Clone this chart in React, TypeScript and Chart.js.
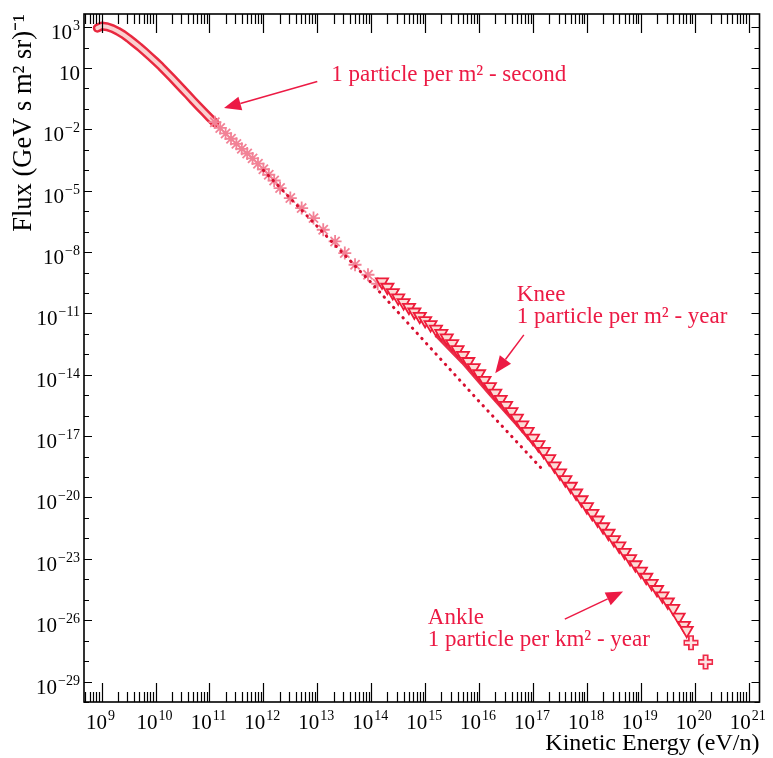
import React, { useEffect, useRef } from 'react';
import { Chart, registerables } from 'chart.js';

Chart.register(...registerables);

const FONT = "'Liberation Serif', 'Times New Roman', serif";
const TEXT_RED = '#ec1a44';

// ---- data (log10 of energy in eV/n, log10 of flux) ----
// low-energy data (dense markers forming a tube)
const tubeLogE = [8.92, 9.0, 9.1, 9.2, 9.3, 9.4, 9.5, 9.6, 9.7, 9.8, 9.9, 10.0, 10.1, 10.2, 10.3, 10.4, 10.5, 10.6, 10.7, 10.8, 10.9, 11.0, 11.1];
const tubeLogFlux = [2.95, 3.05, 3.02, 2.93, 2.8, 2.64, 2.45, 2.24, 2.03, 1.8, 1.56, 1.32, 1.07, 0.8, 0.53, 0.25, -0.03, -0.31, -0.6, -0.88, -1.15, -1.42, -1.68];

// asterisk data
const starLogE = [11.1, 11.2, 11.3, 11.4, 11.5, 11.6, 11.7, 11.8, 11.9, 12.0, 12.1, 12.2, 12.31, 12.5, 12.71, 12.93, 13.11, 13.33, 13.51, 13.7, 13.94, 14.12];
const starLogFlux = [-1.65, -1.93, -2.2, -2.46, -2.71, -2.95, -3.18, -3.42, -3.68, -3.95, -4.22, -4.5, -4.87, -5.36, -5.85, -6.34, -6.91, -7.48, -8.05, -8.62, -9.11, -9.55];

// triangle data (air-shower arrays)
const triLogE = [14.2, 14.3, 14.4, 14.5, 14.6, 14.7, 14.8, 14.9, 15.0, 15.1, 15.2, 15.3, 15.4, 15.5, 15.6, 15.7, 15.8, 15.9, 16.0, 16.1, 16.2, 16.3, 16.4, 16.5, 16.6, 16.7, 16.8, 16.9, 17.0, 17.1, 17.2, 17.3, 17.4, 17.5, 17.6, 17.7, 17.8, 17.9, 18.0, 18.1, 18.2, 18.3, 18.4, 18.5, 18.6, 18.7, 18.8, 18.9, 19.0, 19.1, 19.2, 19.3, 19.4, 19.5, 19.6, 19.7, 19.8, 19.85];
const triLogFlux = [-9.46, -9.72, -9.98, -10.24, -10.47, -10.7, -10.93, -11.14, -11.35, -11.55, -11.77, -11.98, -12.2, -12.48, -12.77, -13.05, -13.35, -13.65, -13.95, -14.27, -14.58, -14.9, -15.2, -15.5, -15.8, -16.12, -16.45, -16.77, -17.1, -17.42, -17.75, -18.1, -18.45, -18.8, -19.13, -19.45, -19.78, -20.11, -20.45, -20.78, -21.1, -21.43, -21.75, -22.06, -22.37, -22.68, -22.99, -23.29, -23.6, -23.9, -24.2, -24.5, -24.81, -25.11, -25.42, -25.85, -26.25, -26.5];

// knee band (solid)
const kneeLogE = [15.2, 15.7, 16.2, 16.7, 17.2];
const kneeLogFlux = [-12.05, -13.4, -14.92, -16.4, -17.95];

// dotted reference line
const dotLogE = [12.0, 13.0, 14.0, 15.0, 16.0, 17.2];
const dotLogFlux = [-4.0, -6.75, -9.5, -12.4, -15.3, -18.7];

// highest-energy points (crosses)
const crossLogE = [19.93, 20.2];
const crossLogFlux = [-27.1, -28.05];

// axes
const xMinExp = 8.674;
const xMaxExp = 21.2;
const yMinExp = -30;
const yMaxExp = 3.64;
const xTickExps = [9, 10, 11, 12, 13, 14, 15, 16, 17, 18, 19, 20, 21];
const yTickExps = [3, 1, -2, -5, -8, -11, -14, -17, -20, -23, -26, -29];

// annotations (positions in data space: log10 E, log10 F)
const annotations = [
  { lines: ['1 particle per m² - second'], logE: 13.26, logF: 0.67 },
  { lines: ['Knee', '1 particle per m² - year'], logE: 16.70, logF: -10.09 },
  { lines: ['Ankle', '1 particle per km² - year'], logE: 15.05, logF: -25.88 },
];
const arrows = [
  { fromE: 13.0, fromF: 0.34, toE: 11.27, toF: -0.96 },
  { fromE: 16.83, fromF: -12.05, toE: 16.30, toF: -13.92 },
  { fromE: 17.59, fromF: -25.95, toE: 18.67, toF: -24.6 },
];

const SUP: Record<string, string> = { '0': '⁰', '1': '¹', '2': '²', '3': '³', '4': '⁴', '5': '⁵', '6': '⁶', '7': '⁷', '8': '⁸', '9': '⁹', '-': '⁻' };
const powLabel = (e: number) => (e === 1 ? '10' : '10' + String(e).split('').map((c) => SUP[c]).join(''));

const pts = (le: number[], lf: number[]) => le.map((e, i) => ({ x: Math.pow(10, e), y: Math.pow(10, lf[i]) }));

const BASE_PX = 21;
const EXP_PX = 14;

function drawPow(ctx: CanvasRenderingContext2D, e: number, x: number, digitsCenterY: number, align: 'center' | 'right') {
  const base = '10';
  const exp = e === 1 ? '' : String(e).replace('-', '\u2212');
  ctx.font = `${BASE_PX}px ${FONT}`;
  const wb = ctx.measureText(base).width;
  ctx.font = `${EXP_PX}px ${FONT}`;
  const we = exp ? ctx.measureText(exp).width + 1 : 0;
  const total = wb + we;
  const x0 = align === 'center' ? x - total / 2 : x - total;
  const baseline = digitsCenterY + 7;
  ctx.textAlign = 'left';
  ctx.textBaseline = 'alphabetic';
  ctx.font = `${BASE_PX}px ${FONT}`;
  ctx.fillText(base, x0, baseline);
  if (exp) {
    ctx.font = `${EXP_PX}px ${FONT}`;
    ctx.fillText(exp, x0 + wb + 1, baseline - 9);
  }
}

const framePlugin = {
  id: 'frameTicks',
  afterDraw(chart: any) {
    const { ctx, chartArea: a, scales } = chart;
    const x = scales.x;
    const y = scales.y;
    ctx.save();
    ctx.strokeStyle = '#000';
    ctx.lineWidth = 1.6;
    ctx.strokeRect(a.left, a.top, a.right - a.left, a.bottom - a.top);
    ctx.lineWidth = 1.2;
    ctx.beginPath();
    for (let d = 8; d <= 21; d++) {
      for (let m = 1; m <= 9; m++) {
        const v = m * Math.pow(10, d);
        if (v < x.min || v > x.max) continue;
        const px = Math.round(x.getPixelForValue(v)) + 0.5;
        const len = m === 1 ? 19 : 10;
        ctx.moveTo(px, a.bottom);
        ctx.lineTo(px, a.bottom - len);
        ctx.moveTo(px, a.top);
        ctx.lineTo(px, a.top + len);
      }
    }
    for (let d = -30; d <= 3; d++) {
      const v = Math.pow(10, d);
      if (v < y.min || v > y.max) continue;
      const py = Math.round(y.getPixelForValue(v)) + 0.5;
      const len = yTickExps.includes(d) ? 8 : 5;
      ctx.moveTo(a.left, py);
      ctx.lineTo(a.left + len, py);
      ctx.moveTo(a.right, py);
      ctx.lineTo(a.right - len, py);
    }
    ctx.stroke();

    // tick labels (10 with raised exponent)
    ctx.fillStyle = '#000';
    x.ticks.forEach((t: any) => {
      const e = Math.round(Math.log10(t.value));
      drawPow(ctx, e, x.getPixelForValue(t.value) - 1, a.bottom + 19.5, 'center');
    });
    y.ticks.forEach((t: any) => {
      const e = Math.round(Math.log10(t.value));
      drawPow(ctx, e, a.left - 4, y.getPixelForValue(t.value) + 5, 'right');
    });

    // annotations
    ctx.fillStyle = TEXT_RED;
    ctx.strokeStyle = TEXT_RED;
    ctx.font = `23px ${FONT}`;
    ctx.textAlign = 'left';
    ctx.textBaseline = 'middle';
    annotations.forEach((an) => {
      const px = x.getPixelForValue(Math.pow(10, an.logE));
      const py = y.getPixelForValue(Math.pow(10, an.logF));
      an.lines.forEach((t, i) => ctx.fillText(t, px, py + i * 22));
    });
    ctx.lineWidth = 1.5;
    arrows.forEach((ar) => {
      const x0 = x.getPixelForValue(Math.pow(10, ar.fromE));
      const y0 = y.getPixelForValue(Math.pow(10, ar.fromF));
      const x1 = x.getPixelForValue(Math.pow(10, ar.toE));
      const y1 = y.getPixelForValue(Math.pow(10, ar.toF));
      const ang = Math.atan2(y1 - y0, x1 - x0);
      const hl = 17;
      const hw = 7;
      const bx = x1 - hl * Math.cos(ang);
      const by = y1 - hl * Math.sin(ang);
      ctx.beginPath();
      ctx.moveTo(x0, y0);
      ctx.lineTo(bx, by);
      ctx.stroke();
      ctx.beginPath();
      ctx.moveTo(x1, y1);
      ctx.lineTo(bx + hw * Math.sin(ang), by - hw * Math.cos(ang));
      ctx.lineTo(bx - hw * Math.sin(ang), by + hw * Math.cos(ang));
      ctx.closePath();
      ctx.fill();
    });
    ctx.restore();
  },
};

export default function App() {
  const ref = useRef<HTMLCanvasElement>(null);
  useEffect(() => {
    document.body.style.margin = '0';
    document.body.style.background = '#fff';
    const canvas = ref.current!;
    const chart = new Chart(canvas, {
      type: 'line',
      data: {
        datasets: [
          {
            label: 'Crosses inner',
            data: pts(crossLogE, crossLogFlux),
            showLine: false,
            pointStyle: 'cross',
            pointRadius: 6,
            borderWidth: 2.5,
            borderColor: '#fde3e3',
          } as any,
          {
            label: 'Crosses',
            data: pts(crossLogE, crossLogFlux),
            showLine: false,
            pointStyle: 'cross',
            pointRadius: 7.5,
            borderWidth: 6,
            borderColor: '#ee2a48',
          },
          {
            label: 'Triangles',
            data: pts(triLogE, triLogFlux),
            showLine: false,
            pointStyle: 'triangle',
            rotation: 180,
            pointRadius: 7,
            borderWidth: 1.8,
            borderColor: '#ee1c3a',
            backgroundColor: '#fbdcd6',
          } as any,
          {
            label: 'Knee',
            data: pts(kneeLogE, kneeLogFlux),
            borderColor: '#e8304a',
            borderWidth: 4,
            pointRadius: 0,
          },
          {
            label: 'Dotted',
            data: pts(dotLogE, dotLogFlux),
            borderColor: '#d80f30',
            borderWidth: 3,
            borderDash: [0.5, 6.5],
            borderCapStyle: 'round',
            pointRadius: 0,
          },
          {
            label: 'Stars',
            data: pts(starLogE, starLogFlux),
            showLine: false,
            pointStyle: 'star',
            pointRadius: 6.5,
            borderWidth: 1.8,
            borderColor: '#f28296',
          },
          {
            label: 'Tube inner',
            data: pts(tubeLogE, tubeLogFlux),
            borderColor: '#fad0d0',
            borderWidth: 4,
            pointRadius: 0,
            borderCapStyle: 'round',
            borderJoinStyle: 'round',
          },
          {
            label: 'Tube',
            data: pts(tubeLogE, tubeLogFlux),
            borderColor: '#e8283f',
            borderWidth: 9,
            pointRadius: 0,
            borderCapStyle: 'round',
            borderJoinStyle: 'round',
          },
        ],
      },
      options: {
        animation: false,
        responsive: false,
        devicePixelRatio: 1,
        layout: { padding: { top: 14, right: 9, left: 0, bottom: 0 } },
        plugins: { legend: { display: false }, tooltip: { enabled: false } },
        scales: {
          x: {
            type: 'logarithmic',
            position: 'bottom',
            min: Math.pow(10, xMinExp),
            max: Math.pow(10, xMaxExp),
            afterBuildTicks: (s: any) => {
              s.ticks = xTickExps.map((e) => ({ value: Math.pow(10, e) }));
            },
            afterFit: (s: any) => {
              s.height = 56;
            },
            ticks: {
              display: false,
              callback: (v: any) => powLabel(Math.round(Math.log10(Number(v)))),
              autoSkip: false,
              maxRotation: 0,
              minRotation: 0,
            },
            grid: { display: false, drawTicks: false },
            border: { display: false },
            title: {
              display: true,
              text: 'Kinetic Energy (eV/n)',
              align: 'end',
              color: '#000',
              font: { family: FONT, size: 24 },
              padding: { top: 0, bottom: 0 },
            },
          },
          y: {
            type: 'logarithmic',
            position: 'left',
            min: Math.pow(10, yMinExp),
            max: Math.pow(10, yMaxExp),
            afterBuildTicks: (s: any) => {
              s.ticks = yTickExps.map((e) => ({ value: Math.pow(10, e) }));
            },
            afterFit: (s: any) => {
              s.width = 84;
            },
            ticks: {
              display: false,
              callback: (v: any) => powLabel(Math.round(Math.log10(Number(v)))),
              autoSkip: false,
            },
            grid: { display: false, drawTicks: false },
            border: { display: false },
            title: {
              display: true,
              text: 'Flux (GeV s m² sr)⁻¹',
              align: 'end',
              color: '#000',
              font: { family: FONT, size: 26.5 },
              padding: { top: 8, bottom: 0 },
            },
          },
        },
      },
      plugins: [framePlugin],
    });
    return () => chart.destroy();
  }, []);
  return (
    <div style={{ width: 773, height: 758, background: '#fff' }}>
      <canvas ref={ref} width={773} height={758} style={{ display: 'block' }} />
    </div>
  );
}
